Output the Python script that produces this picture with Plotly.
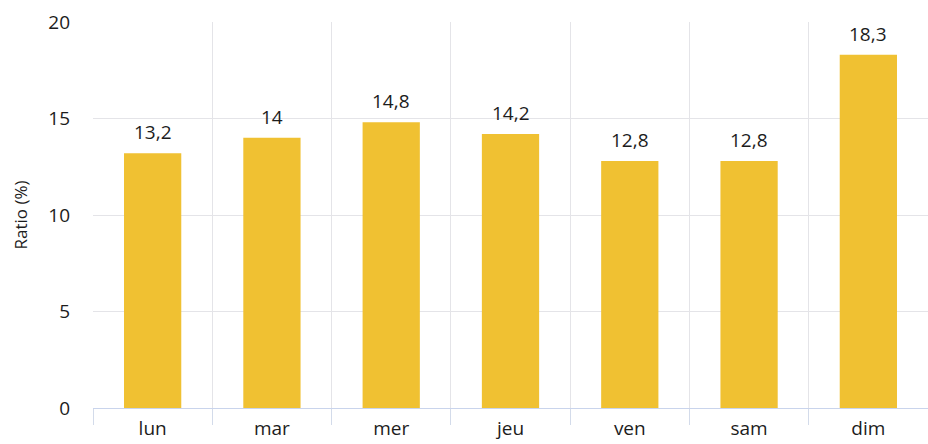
import plotly.graph_objects as go

jours = ["lun", "mar", "mer", "jeu", "ven", "sam", "dim"]
ratio = [13.2, 14, 14.8, 14.2, 12.8, 12.8, 18.3]
etiquettes = ["13,2", "14", "14,8", "14,2", "12,8", "12,8", "18,3"]
y_ticks = [0, 5, 10, 15, 20]

fig = go.Figure(go.Bar(
    x=jours, y=ratio,
    marker=dict(color="#F0C132", line=dict(width=0)),
    width=0.48, cliponaxis=False,
))

for j, v, t in zip(jours, ratio, etiquettes):
    fig.add_annotation(x=j, y=v, text=t, showarrow=False, yanchor="bottom",
                       yshift=6, font=dict(size=19, color="#1c1c1c"))

fig.update_layout(
    width=928, height=444,
    margin=dict(l=93, r=0, t=22, b=36, autoexpand=False),
    paper_bgcolor="white", plot_bgcolor="white",
    font=dict(family="Open Sans, Lato, sans-serif", size=19, color="#1c1c1c"),
    showlegend=False,
)
fig.update_xaxes(
    tickson="boundaries", ticks="outside", ticklen=16, tickcolor="#d3dbea",
    showgrid=True, gridcolor="#e4e4e8", gridwidth=1,
    showline=True, linecolor="#c9d4ec", linewidth=1,
    tickfont=dict(size=19), range=[-0.5, 6.5], automargin=False,
    ticklabelstandoff=3,
)
fig.update_yaxes(
    range=[0, 20], tickvals=y_ticks, showgrid=True, gridcolor="#e4e4e8",
    zeroline=False, title=dict(text="Ratio (%)", font=dict(size=17), standoff=16),
    tickfont=dict(size=19), ticklabelstandoff=22, automargin=False,
)

fig.write_html("out.html", config={"displayModeBar": False})
with open("out.html", encoding="utf-8") as f:
    html = f.read()
html = html.replace("<body>", '<body style="margin:0;padding:0;">', 1)
with open("out.html", "w", encoding="utf-8") as f:
    f.write(html)
